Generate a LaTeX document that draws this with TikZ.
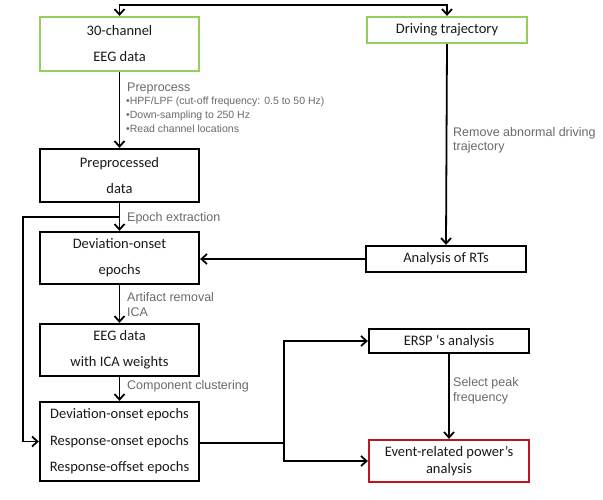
\documentclass[tikz,border=0pt]{standalone}
\usepackage{fontspec}
\setmainfont{Carlito}
\newfontfamily\lblfont{Liberation Sans}
\usetikzlibrary{arrows.meta}
\definecolor{boxgreen}{RGB}{150,204,92}
\definecolor{boxred}{RGB}{192,20,30}
\definecolor{lblgray}{RGB}{105,105,105}
\begin{document}
\begin{tikzpicture}[x=1pt,y=-1pt,
  box/.style={draw=black,line width=2.3pt,rectangle,inner sep=0pt,align=center,
    font=\fontsize{14.5}{26}\selectfont,text=black!90},
  gbox/.style={box,draw=boxgreen},
  rbox/.style={box,draw=boxred},
  conn/.style={line width=1.8pt,black},
  arr/.style={conn,-{Straight Barb[length=5.5pt,width=10pt,line width=1.8pt]}},
  lbl/.style={anchor=west,inner sep=0pt,text=lblgray,font=\lblfont\fontsize{12.5}{14}\selectfont},
  sublbl/.style={anchor=west,inner sep=0pt,text=lblgray,font=\lblfont\fontsize{10.5}{13}\selectfont}]
\useasboundingbox (0,0) rectangle (603,499);

\node[gbox,minimum width=159pt,minimum height=54pt] (eeg) at (119.5,44) {30-channel\\EEG data};
\node[gbox,minimum width=160pt,minimum height=26pt] (drv) at (447,30) {Driving trajectory};
\node[box,minimum width=159pt,minimum height=53pt] (pre) at (119.5,175.5) {Preprocessed\\data};
\node[box,minimum width=159pt,minimum height=52pt] (dev) at (119.5,258) {Deviation-onset\\epochs};
\node[box,minimum width=160pt,minimum height=26pt] (rts) at (446,259) {Analysis of RTs};
\node[box,minimum width=159pt,minimum height=52pt] (ica) at (119.5,350) {EEG data\\with ICA weights};
\node[box,minimum width=159pt,minimum height=79pt,font=\fontsize{14.5}{26.5}\selectfont] (fin) at (119.5,441.5) {Deviation-onset epochs\\Response-onset epochs\\Response-offset epochs};
\node[box,minimum width=160pt,minimum height=24pt] (ersp) at (449,341) {ERSP {\textquoteleft}s analysis};
\node[rbox,minimum width=160pt,minimum height=42pt,font=\fontsize{14.5}{17}\selectfont] (erp) at (449,461) {Event-related power{\textquoteright}s\\analysis};

\coordinate (top) at (284,5);
\coordinate (fb) at (23,217);
\coordinate (br) at (284,443);

% top split
\draw[conn,{Straight Barb[length=5.5pt,width=10pt,line width=1.8pt]}-{Straight Barb[length=5.5pt,width=10pt,line width=1.8pt]}]
  (eeg.north) -- (eeg.north |- top) -- (drv.north |- top) -- (drv.north);
\draw[arr] (eeg.south) -- (pre.north);
\draw[arr] (pre.south) -- (dev.north);
\draw[arr] (pre.south |- fb) -- (fb) |- (fin.west);
\draw[arr] (drv.south) -- (rts.north);
\draw[arr] (rts.west) -- (dev.east |- rts.west);
\draw[arr] (dev.south) -- (ica.north);
\draw[arr] (ica.south) -- (fin.north);
\draw[conn] (fin.east |- br) -- (br);
\draw[arr] (br) |- (ersp.west);
\draw[arr] (br) |- (erp.west);
\draw[arr] (ersp.south) -- (erp.north);

% labels
\node[lbl] (l1) at (127,88) {Preprocess};
\node[sublbl] (l2) at (126,102) {\textbullet HPF/LPF (cut-off frequency: 0.5 to 50 Hz)};
\node[sublbl] (l3) at (126,116) {\textbullet Down-sampling to 250 Hz};
\node[sublbl] (l4) at (126,129) {\textbullet Read channel locations};
\node[lbl] (l5) at (453,133) {Remove abnormal driving};
\node[lbl] (l6) at (453,147) {trajectory};
\node[lbl] (l7) at (127,218) {Epoch extraction};
\node[lbl] (l8) at (127,297) {Artifact removal};
\node[lbl] (l9) at (127,312) {ICA};
\node[lbl] (l10) at (127,386) {Component clustering};
\node[lbl] (l11) at (453,383) {Select peak};
\node[lbl] (l12) at (453,398) {frequency};
\end{tikzpicture}
\end{document}
